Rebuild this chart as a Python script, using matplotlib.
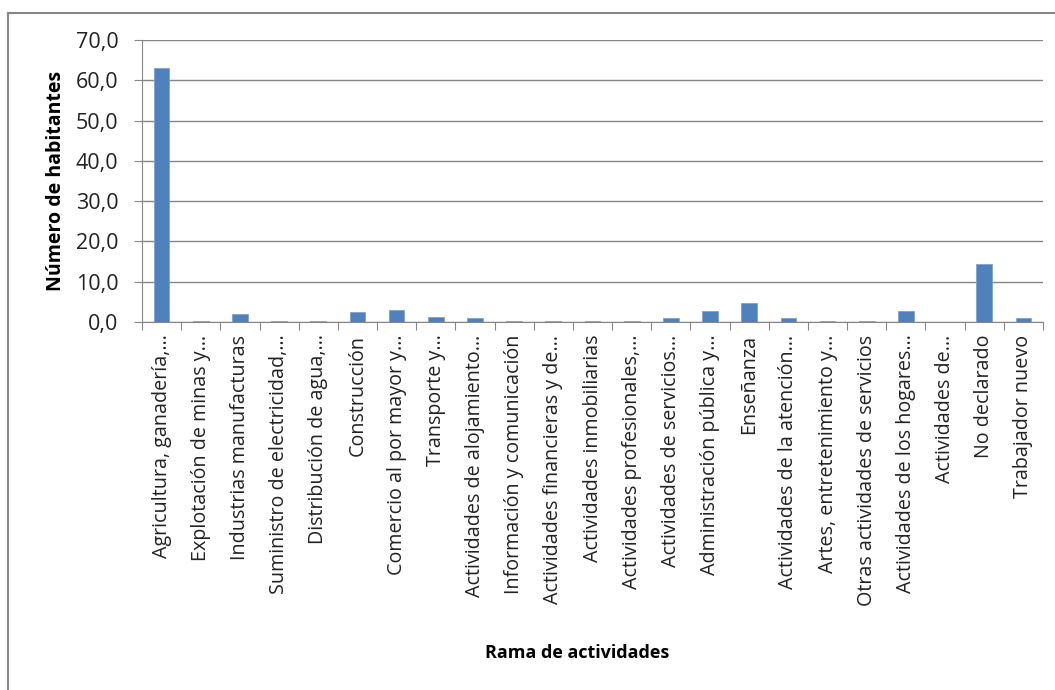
import matplotlib
matplotlib.use("Agg")
import matplotlib.pyplot as plt
from matplotlib.lines import Line2D
import numpy as np

categories = [
    "Agricultura, ganadería,…", "Explotación de minas y…", "Industrias manufacturas",
    "Suministro de electricidad,…", "Distribución de agua,…", "Construcción",
    "Comercio al por mayor y…", "Transporte y…", "Actividades de alojamiento…",
    "Información y comunicación", "Actividades financieras y de…", "Actividades inmobiliarias",
    "Actividades profesionales,…", "Actividades de servicios…", "Administración pública y…",
    "Enseñanza", "Actividades de la atención…", "Artes, entretenimiento y…",
    "Otras actividades de servicios", "Actividades de los hogares…", "Actividades de…",
    "No declarado", "Trabajador nuevo",
]
values = [63.0, 0.3, 1.9, 0.3, 0.3, 2.4, 3.0, 1.2, 0.9, 0.3, 0.3, 0.3,
          0.3, 0.9, 2.7, 4.7, 0.9, 0.3, 0.3, 2.7, 0.0, 14.4, 0.9]
yticks = [0, 10, 20, 30, 40, 50, 60, 70]
ytick_labels = ["0,0", "10,0", "20,0", "30,0", "40,0", "50,0", "60,0", "70,0"]

plt.rcParams['font.family'] = ['Open Sans', 'DejaVu Sans']

W, H = 1055, 690
fig = plt.figure(figsize=(W / 100, H / 100), dpi=100)
# outer chart border (only top and left visible in the reference)
fig.lines.append(Line2D([8 / W, 1], [1 - 13 / H, 1 - 13 / H], transform=fig.transFigure,
                        color='#868686', linewidth=1.5))
fig.lines.append(Line2D([8 / W, 8 / W], [0, 1 - 13 / H], transform=fig.transFigure,
                        color='#868686', linewidth=1.5))

ax = fig.add_axes([142 / W, 1 - 322 / H, (1043 - 142) / W, (322 - 40) / H])
n = len(categories)
x = np.arange(n)
ax.bar(x, values, width=0.4, color='#4F81BD', edgecolor='#7EA3D0', linewidth=0.6, zorder=3)
ax.set_xlim(-0.5, n - 0.5)
ax.set_ylim(0, 70)
ax.set_yticks(yticks)
ax.set_yticklabels(ytick_labels, fontsize=15.5, color='#222222')
ax.yaxis.grid(True, color='#868686', linewidth=1.0, zorder=0)
ax.set_xticks(np.arange(-0.5, n, 1.0))
ax.set_xticklabels([])
ax.set_xticks(x, minor=True)
ax.set_xticklabels(categories, minor=True, rotation=90, fontsize=14.2, va='top', ha='center',
                   color='#222222')
ax.tick_params(axis='x', which='major', length=6, color='#868686', direction='out')
ax.tick_params(axis='x', which='minor', length=0, pad=9)
ax.tick_params(axis='y', length=6, color='#868686', direction='out', pad=11)
for s in ['top', 'right']:
    ax.spines[s].set_visible(False)
for s in ['left', 'bottom']:
    ax.spines[s].set_color('#868686')

ax.set_ylabel("Número de habitantes", fontsize=14, fontweight='bold', labelpad=7)
fig.text(577 / W, 1 - 653 / H, "Rama de actividades", fontsize=13,
         fontweight='bold', ha='center', va='center')

fig.savefig("out.png", dpi=100, facecolor='white')
